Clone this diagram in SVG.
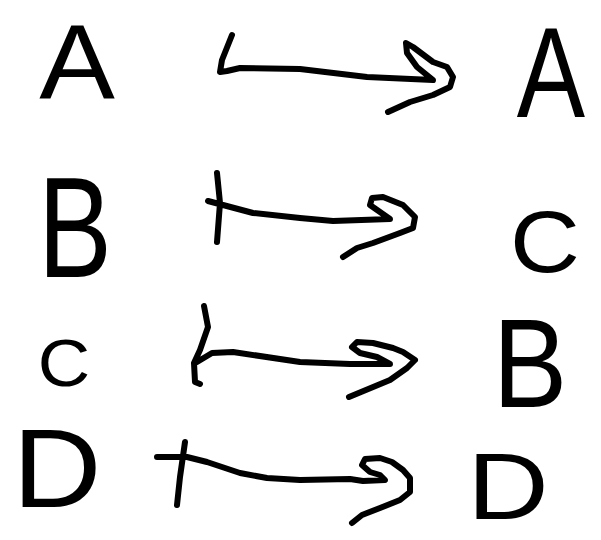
<svg xmlns="http://www.w3.org/2000/svg" width="601" height="540" viewBox="0 0 601 540">
<style>
.lt{font-family:"Liberation Sans",Arial,sans-serif;fill:#000;text-anchor:middle}
.st{fill:none;stroke:#000;stroke-width:6;stroke-linecap:round;stroke-linejoin:round}
</style>
<rect width="601" height="540" fill="#fff"/>
<g id="nodes">
<g id="a-left"><text class="lt" font-size="106" transform="translate(77,98) scale(1.07,1)">A</text></g>
<g id="a-right"><text class="lt" font-size="128" transform="translate(551,117) scale(0.8,1)">A</text></g>
<g id="b-left"><text class="lt" font-size="142" transform="translate(75,277) scale(0.78,1)">B</text></g>
<g id="c-right"><text class="lt" font-size="88" transform="translate(545,272) scale(1.1,1)">C</text></g>
<g id="c-left"><text class="lt" font-size="66" transform="translate(64,386) scale(1.1,1)">C</text></g>
<g id="b-right"><text class="lt" font-size="127" transform="translate(530,407) scale(0.88,1)">B</text></g>
<g id="d-left"><text class="lt" font-size="112" transform="translate(57,507) scale(1.1,1)">D</text></g>
<g id="d-right"><text class="lt" font-size="94" transform="translate(508,519) scale(1.2,1)">D</text></g>
</g>
<g id="connectors">
<path id="arrow-a" class="st" d="M232,35 L226,50 L222,60 L220,72 L227,71 L240,68 L300,69 L367,77 L433,80 L417,67 L407,53 L406,43 L413,47 L433,62 L447,67 L453,77 L450,87 L433,95 L410,102 L388,112"/>
<path id="arrow-b" class="st" d="M217,173 L220,203 L217,242 M208,201 L253,213 L300,218 L333,221 L390,219 L380,212 L370,205 L372,198 L383,197 L403,205 L415,217 L413,228 L400,233 L373,243 L357,248 L343,257"/>
<path id="arrow-c" class="st" d="M204,306 L208,327 L200,350 L194,363 L195,382 L200,384 M197,362 L212,353 L233,352 L300,362 L350,364 L390,364 L377,357 L360,353 L352,347 L357,342 L373,343 L393,348 L403,352 L415,360 L407,368 L390,380 L349,397"/>
<path id="arrow-d" class="st" d="M185,442 L180,477 L177,505 M157,457 L187,457 L207,462 L240,473 L267,478 L300,480 L350,479 L363,481 L385,480 L380,475 L370,472 L362,465 L365,459 L380,458 L392,462 L403,470 L410,478 L410,492 L400,500 L380,508 L362,515 L352,523"/>
</g>
</svg>
